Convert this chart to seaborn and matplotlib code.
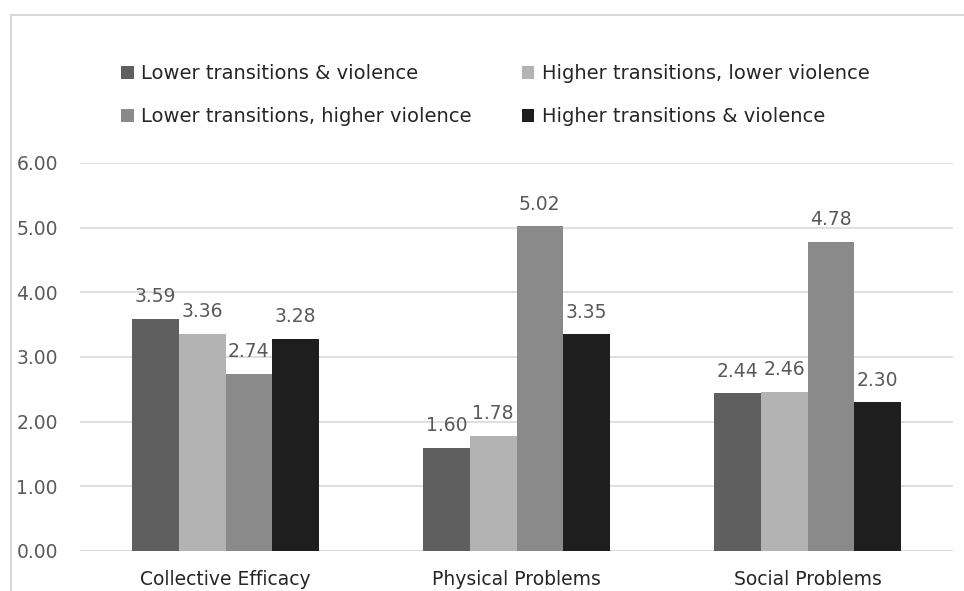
"""Grouped bar chart: neighbourhood outcomes by transitions/violence group."""
import matplotlib
matplotlib.use("Agg")
import matplotlib.pyplot as plt
from matplotlib.patches import Patch, Rectangle
import pandas as pd
import seaborn as sns

CATEGORIES = ["Collective Efficacy", "Physical Problems", "Social Problems"]
SERIES = [
    "Lower transitions & violence",
    "Higher transitions, lower violence",
    "Lower transitions, higher violence",
    "Higher transitions & violence",
]
LOWER_BOTH = [3.59, 1.60, 2.44]
HIGHER_TRANS_LOWER_VIOL = [3.36, 1.78, 2.46]
LOWER_TRANS_HIGHER_VIOL = [2.74, 5.02, 4.78]
HIGHER_BOTH = [3.28, 3.35, 2.30]
Y_TICKS = [0, 1, 2, 3, 4, 5, 6]

COLORS = ["#5f5f5f", "#b3b3b3", "#8a8a8a", "#1e1e1e"]
FS = 13.5
LEG_FS = 14

values = [LOWER_BOTH, HIGHER_TRANS_LOWER_VIOL, LOWER_TRANS_HIGHER_VIOL, HIGHER_BOTH]
rows = []
for name, vals in zip(SERIES, values):
    for cat, v in zip(CATEGORIES, vals):
        rows.append({"Category": cat, "Group": name, "Value": v})
df = pd.DataFrame(rows)

sns.set_theme(style="white")
plt.rcParams["font.family"] = ["DejaVu Sans"]

fig = plt.figure(figsize=(9.64, 5.91), dpi=100)
ax = fig.add_axes([80 / 964, 40 / 591, 873 / 964, 388 / 591])

sns.barplot(
    data=df, x="Category", y="Value", hue="Group",
    order=CATEGORIES, hue_order=SERIES, palette=COLORS,
    width=0.64, saturation=1, linewidth=0, ax=ax, legend=False,
)

for cont in ax.containers:
    ax.bar_label(cont, fmt="%.2f", padding=9, fontsize=FS, color="#595959")

ax.set_ylim(0, 6)
ax.set_yticks(Y_TICKS)
ax.set_yticklabels([f"{t:.2f}" for t in Y_TICKS])
ax.yaxis.grid(True, color="#d9d9d9", linewidth=1.2)
ax.set_axisbelow(True)
for side in ["top", "right", "left", "bottom"]:
    ax.spines[side].set_visible(False)
ax.axhline(0, color="#d9d9d9", linewidth=1.2, zorder=0.5)
ax.set_xlabel("")
ax.set_ylabel("")
ax.tick_params(axis="y", length=0, pad=16, labelsize=FS, labelcolor="#595959")
ax.tick_params(axis="x", length=0, pad=14, labelsize=FS, labelcolor="#262626")

# legend filled row-wise like the original
handles = [Patch(facecolor=c, edgecolor="none") for c in COLORS]
order = [0, 2, 1, 3]
fig.legend(
    [handles[i] for i in order], [SERIES[i] for i in order],
    ncol=2, loc="upper left", bbox_to_anchor=(121 / 964, 1 - 64 / 591),
    frameon=False, fontsize=LEG_FS, labelcolor="#262626",
    handlelength=0.65, handleheight=0.65, handletextpad=0.4,
    columnspacing=2.55, labelspacing=1.25, borderpad=0, borderaxespad=0,
)

# chart-area border (cropped on the right and bottom)
fig.patches.append(Rectangle((11 / 964, -0.1), 1.2, 1.1 - 15 / 591,
                             transform=fig.transFigure, fill=False,
                             edgecolor="#d9d9d9", linewidth=1.5))

fig.savefig("out.png", dpi=100)
